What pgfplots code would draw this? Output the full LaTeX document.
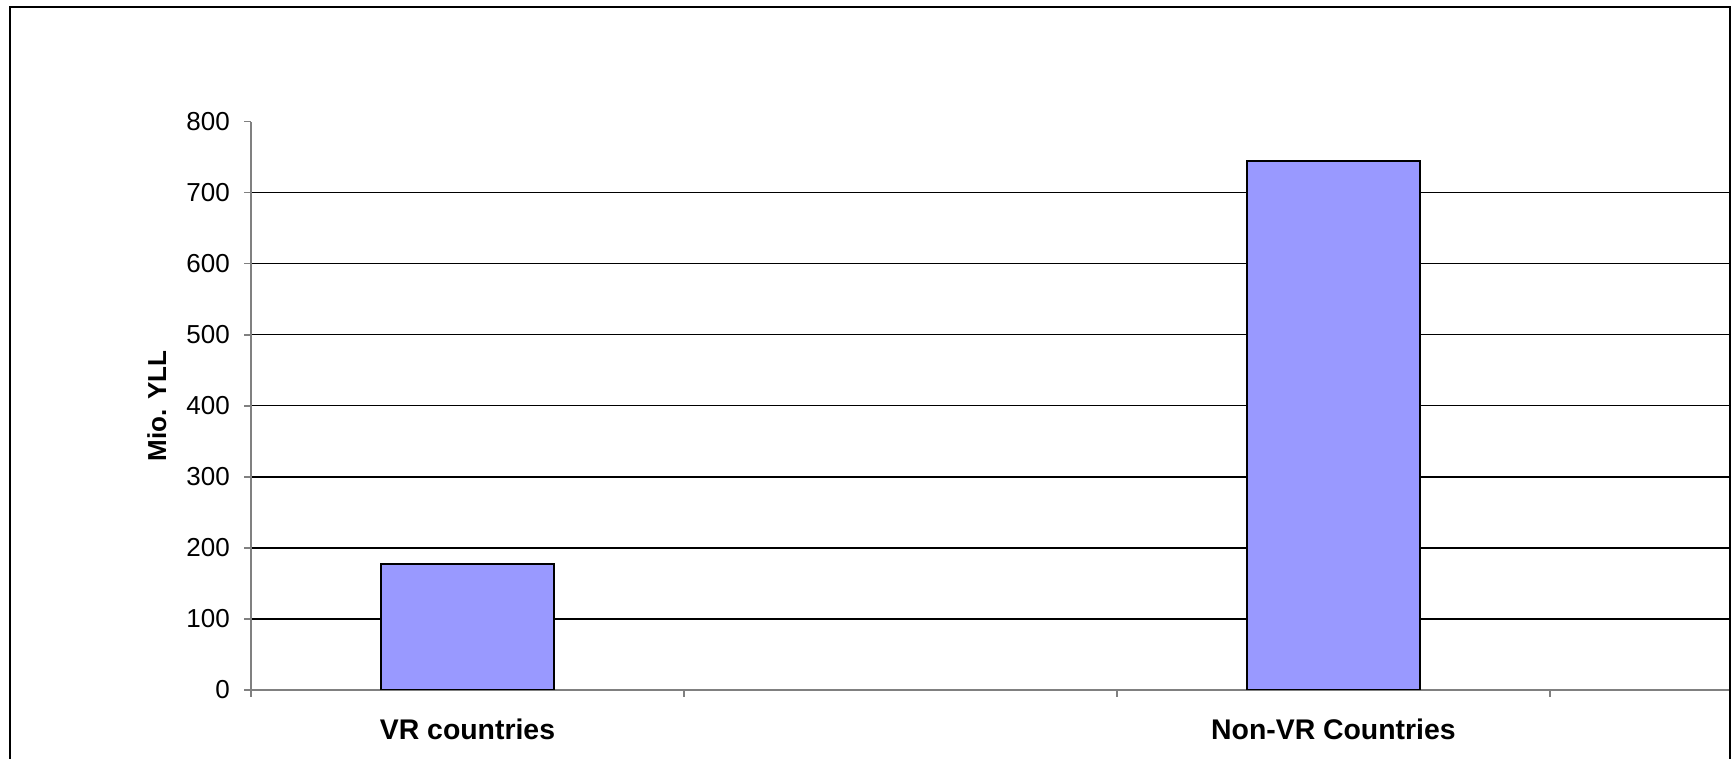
\documentclass[border=0pt]{standalone}
\usepackage{fontspec}
\setmainfont{Liberation Sans}
\usepackage{pgfplots}
\pgfplotsset{compat=1.18}
\definecolor{barfill}{HTML}{9999FF}
\definecolor{axgray}{HTML}{808080}
\begin{document}
\begin{tikzpicture}
\path[use as bounding box] (0pt,0pt) rectangle (433pt,189.75pt);
\begin{axis}[
  at={(62.75pt,17.25pt)}, anchor=south west,
  scale only axis, width=369.75pt, height=142.125pt,
  xmin=-0.5, xmax=2.916, ymin=0, ymax=800,
  axis x line*=bottom, axis y line*=left,
  axis line style={axgray, line width=0.5pt, -},
  tick align=outside, major tick length=1.75pt,
  tick style={axgray, line width=0.4pt},
  xtick={-0.5,0.5,1.5,2.5}, xticklabels={},
  extra x ticks={0,2},
  extra x tick labels={VR countries,Non-VR Countries},
  extra x tick style={major tick length=0pt,
    tick label style={font=\fontsize{7.1}{8.5}\selectfont\bfseries, yshift=-3.8pt}},
  ytick={0,100,...,700},
  extra y ticks={800}, extra y tick style={grid=none},
  ymajorgrids, grid style={black, line width=0.35pt},
  yticklabel style={font=\fontsize{6.5}{8}\selectfont},
  /pgf/number format/assume math mode=true,
  ylabel={\bfseries Mio. YLL},
  ylabel style={font=\fontsize{6.5}{8}\selectfont, at={(axis description cs:-0.0636,0.5)}, anchor=center},
]
\addplot[ybar, bar width=0.4, fill=barfill, draw=black, line width=0.5pt]
  coordinates {(0,178) (2,745)};
\end{axis}
\draw[line width=0.5pt] (2.5pt,-5pt) rectangle (432.5pt,188pt);
\end{tikzpicture}
\end{document}
